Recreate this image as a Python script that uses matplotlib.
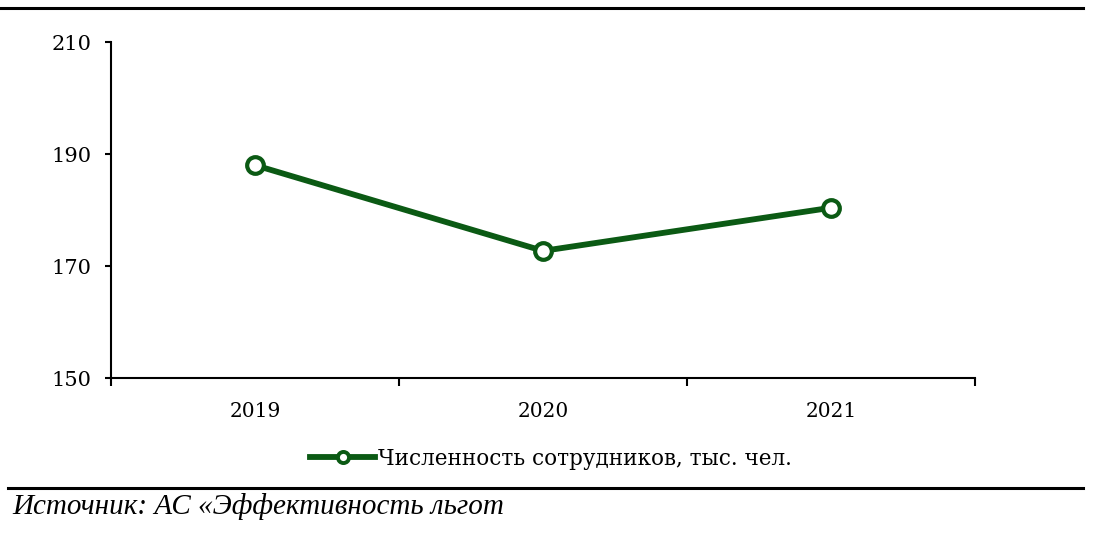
import matplotlib
matplotlib.use("Agg")
import matplotlib.pyplot as plt
from matplotlib.lines import Line2D

years = ["2019", "2020", "2021"]
employees = [188.0, 172.7, 180.4]
yticks = [150, 170, 190, 210]
series_label = "Численность сотрудников, тыс. чел."
source_text = "Источник: АС «Эффективность льгот"

GREEN = "#0b5a14"
W, H = 1098, 540
fig = plt.figure(figsize=(W / 100, H / 100), dpi=100)
fig.patch.set_facecolor("white")

ax = fig.add_axes([111 / W, 1 - 378 / H, (975 - 111) / W, (378 - 42) / H])
x = list(range(len(years)))
ax.plot(x, employees, color=GREEN, lw=4.2, marker="o", ms=12,
        mfc="white", mec=GREEN, mew=3.0, zorder=3, clip_on=False,
        label=series_label)

ax.set_xlim(-0.5, len(years) - 0.5)
ax.set_ylim(150, 210)
ax.set_yticks(yticks)
ax.set_yticklabels([str(v) for v in yticks])
ax.set_xticks([i - 0.5 for i in range(len(years) + 1)])
ax.set_xticklabels([])
ax.set_xticks(x, minor=True)
ax.set_xticklabels(years, minor=True)
ax.tick_params(axis="x", which="major", direction="out", length=6, width=1.5, color="black")
ax.tick_params(axis="x", which="minor", length=0, pad=17, labelsize=14.5)
ax.tick_params(axis="y", direction="out", length=4, width=1.5, pad=10, labelsize=15)
for lab in ax.get_xticklabels(minor=True) + ax.get_yticklabels():
    lab.set_family("DejaVu Serif")
for s in ["top", "right"]:
    ax.spines[s].set_visible(False)
for s in ["left", "bottom"]:
    ax.spines[s].set_linewidth(1.5)

handle = Line2D([], [], color=GREEN, lw=4.2, marker="o", ms=8, mfc="white",
                mec=GREEN, mew=2.8)
fig.legend([handle], [series_label], loc="center",
           bbox_to_anchor=(551 / W, 1 - 459 / H), frameon=False,
           handlelength=3.0, handletextpad=0.12,
           prop={"family": "DejaVu Serif", "size": 15.5})

fig.add_artist(Line2D([0, 1083 / W], [1 - 8 / H, 1 - 8 / H], color="black", lw=2.2))
fig.add_artist(Line2D([8 / W, 1083 / W], [1 - 488 / H, 1 - 488 / H], color="black", lw=2.2))
fig.text(12 / W, 1 - 507 / H, source_text, ha="left", va="center",
         family="Liberation Serif", style="italic", fontsize=21)

fig.savefig("out.png", dpi=100, facecolor="white")
